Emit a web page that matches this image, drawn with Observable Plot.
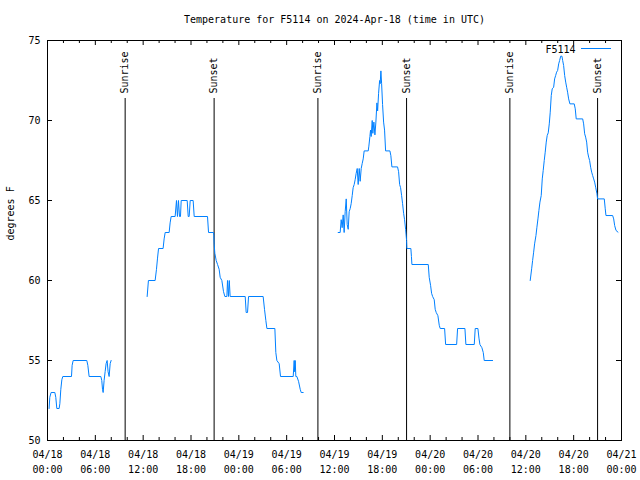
<!DOCTYPE html>
<html>
<head>
<meta charset="utf-8">
<script src="https://cdn.jsdelivr.net/npm/d3@7"></script>
<script src="https://cdn.jsdelivr.net/npm/@observablehq/plot@0.6"></script>
<style>
  html, body { margin: 0; padding: 0; background: #ffffff; }
</style>
</head>
<body>
<div id="chart"></div>
<script>
// ---------- text ----------
const title = "Temperature for F5114 on 2024-Apr-18 (time in UTC)";
const yLabel = "degrees F";
const seriesName = "F5114";

// ---------- axes ----------
const startUTC = Date.UTC(2024, 3, 18, 0, 0);        // 04/18 00:00 UTC
const endHour = 72;                                  // 04/21 00:00 UTC
const yTicks = [50, 55, 60, 65, 70, 75];
const xMajorHours = [0, 6, 12, 18, 24, 30, 36, 42, 48, 54, 60, 66, 72];
const xMinorHours = [2, 4, 8, 10, 14, 16, 20, 22, 26, 28, 32, 34, 38, 40, 44, 46, 50, 52, 56, 58, 62, 64, 68, 70];

// ---------- sunrise / sunset (hours after 04/18 00:00 UTC) ----------
const sunLabels = ["Sunrise", "Sunset", "Sunrise", "Sunset", "Sunrise", "Sunset"];
const sunHours  = [9.74, 20.90, 33.92, 45.04, 58.00, 69.00];

// ---------- temperature series: [hours after 04/18 00:00 UTC, degrees F] ----------
const segment1 = [
  [0.2,52],[0.29,52.7],[0.45,53],[0.92,53],[1.04,52.7],[1.17,52],[1.46,52],[1.55,52.3],[1.67,53.2],
  [1.8,53.8],[1.92,54],[3.01,54],[3.09,54.7],[3.22,55],[4.93,55],[5.06,54.7],[5.22,54],[6.69,54],
  [6.81,53.75],[6.9,53.2],[6.98,53],[7.1,53.75],[7.23,54.3],[7.35,54.8],[7.48,55],[7.6,54.3],
  [7.73,54],[7.86,54.8],[7.98,55]
];
const segment2 = [
  [12.5,59],[12.66,60],[13.5,60],[13.67,60.7],[13.8,61.4],[13.93,62],[14.5,62],[14.63,62.6],[14.76,63],
  [15.26,63],[15.38,63.6],[15.51,64],[16.01,64],[16.18,65],[16.3,64],[16.43,65],[16.56,64],[16.68,64],
  [16.77,65],[17.52,65],[17.65,64],[17.77,64],[17.9,65],[18.27,65],[18.4,64],[20.07,64],[20.2,63],
  [20.83,63],[20.86,62.8],[20.9,62.3],[20.99,61.7],[21.16,61.25],[21.33,61],[21.53,60.7],[21.66,60.2],
  [21.87,60],[22.08,59.3],[22.25,59],[22.5,59],[22.58,60],[22.7,59],[22.8,60],[22.91,59],[24.8,59],
  [24.92,58],[25.09,58],[25.22,59],[27.05,59],[27.22,58.2],[27.39,57.5],[27.52,57],[28.52,57],
  [28.64,55.5],[28.77,55],[29.06,54.8],[29.23,54],[30.82,54],[30.94,55],[31.0,54.3],[31.07,55],
  [31.15,54],[31.28,54],[31.49,53.7],[31.7,53.2],[31.82,53],[32.07,53]
];
const segment3 = [
  [36.46,63],[36.71,63],[36.84,63.8],[36.96,63.3],[37.09,64.1],[37.21,63],[37.34,64.3],[37.47,65.1],
  [37.59,63.5],[37.72,63.2],[37.84,64.3],[37.97,64.5],[38.09,64.8],[38.22,65.3],[38.34,65.8],[38.47,66],
  [38.59,66.3],[38.72,66.7],[38.85,67],[38.97,66],[39.1,67],[39.22,66.2],[39.35,67],[39.47,67.3],
  [39.6,67.6],[39.72,68.1],[40.23,68.1],[40.31,68.4],[40.44,69],[40.52,69.4],[40.6,69],[40.73,70],
  [40.81,69.2],[40.94,69.9],[41.07,69.1],[41.19,69.9],[41.32,71.1],[41.41,70.6],[41.53,71.7],
  [41.66,72.5],[41.73,72.3],[41.82,73.1],[41.91,72.3],[42.03,71],[42.16,69.9],[42.28,69.4],[42.41,68.1],
  [42.95,68.1],[43.07,67.8],[43.2,67.1],[43.91,67.1],[44.04,66.8],[44.17,66],[44.29,65.8],[44.42,65.3],
  [44.54,64.8],[44.67,64.2],[44.79,63.8],[44.92,63.2],[45.04,62.5],[45.08,62],[45.58,62],[45.65,61.5],
  [45.71,61],[47.76,61],[47.88,60.2],[48.05,59.7],[48.18,59.2],[48.31,59],[48.51,58.8],[48.63,58.2],
  [48.76,58],[48.97,57.8],[49.14,57.2],[49.26,57],[49.81,57],[49.94,56],[51.32,56],[51.44,57],[52.36,57],
  [52.48,56],[53.53,56],[53.65,57],[53.99,57],[54.12,56.4],[54.24,56],[54.49,55.8],[54.66,55.5],
  [54.78,55],[55.83,55]
];
const segment4 = [
  [60.55,60],[60.73,60.73],[60.85,61.25],[60.98,61.77],[61.1,62.29],[61.27,62.81],[61.39,63.33],
  [61.52,63.85],[61.64,64.38],[61.77,64.9],[61.93,65.31],[62.06,66.35],[62.18,66.88],[62.31,67.5],
  [62.43,68.02],[62.56,68.65],[62.68,69.06],[62.81,69.23],[62.94,69.79],[63.06,70.52],[63.19,71.56],
  [63.31,71.98],[63.49,72.08],[63.61,72.6],[63.74,72.81],[63.86,73.02],[63.99,73.13],[64.12,73.54],
  [64.24,73.75],[64.37,74.02],[64.53,74.02],[64.62,73.75],[64.74,73.44],[64.87,72.81],[65.0,72.4],
  [65.12,72.08],[65.24,71.77],[65.37,71.35],[65.53,71.04],[66.07,71.04],[66.2,70.73],[66.32,70.1],
  [67.13,70.1],[67.25,69.79],[67.38,69.17],[67.5,68.96],[67.63,68.65],[67.75,68.02],[67.88,67.71],
  [68.0,67.5],[68.13,67.08],[68.26,66.77],[68.38,66.56],[68.51,66.35],[68.63,66.15],[68.76,65.83],
  [68.92,65.42],[69.0,65.1],[69.84,65.1],[69.96,64.48],[70.05,64.06],[70.89,64.06],[71.02,63.85],
  [71.14,63.44],[71.31,63.13],[71.56,63.02]
];

// ---------- build ----------
const toDate = h => new Date(startUTC + h * 3600e3);
const segments = [segment1, segment2, segment3, segment4];
const data = segments.flatMap((seg, i) => seg.map(([h, t]) => ({time: toDate(h), temp: t, seg: i})));
const sunEvents = sunHours.map((h, i) => ({time: toDate(h), label: sunLabels[i]}));
const fmtDay = d3.utcFormat("%m/%d"), fmtTime = d3.utcFormat("%H:%M");

const W = 640, H = 480, mL = 47, mR = 19, mT = 40, mB = 40;
const frameW = W - mL - mR, frameH = H - mT - mB;
const lineColor = "#0080ff";
const font = "'DejaVu Sans Mono', 'Liberation Mono', monospace";

const legendLine = (index, scales, values, dims) => {
  const right = dims.width - dims.marginRight;
  return d3.create("svg:line")
    .attr("x1", right - 40).attr("x2", right - 10)
    .attr("y1", dims.marginTop + 8.5).attr("y2", dims.marginTop + 8.5)
    .attr("stroke", lineColor).attr("stroke-width", 1)
    .node();
};

const chart = Plot.plot({
  width: W, height: H,
  marginLeft: mL, marginRight: mR, marginTop: mT, marginBottom: mB,
  style: {fontFamily: font, fontSize: "10px", background: "#ffffff", color: "#000000", overflow: "visible"},
  x: {type: "utc", domain: [toDate(0), toDate(endHour)], axis: null},
  y: {domain: [50, 75], axis: null},
  marks: [
    // sunrise / sunset markers
    Plot.ruleX(sunEvents, {x: "time", insetTop: 58, stroke: "#000000", strokeWidth: 1}),
    Plot.text(sunEvents, {x: "time", text: "label", frameAnchor: "top", dy: 53, rotate: -90,
      textAnchor: "start", lineAnchor: "middle", fill: "#000000"}),
    // temperature
    Plot.line(data, {x: "time", y: "temp", z: "seg", stroke: lineColor, strokeWidth: 1,
      strokeLinejoin: "miter", curve: "linear"}),
    // ticks (inward, mirrored)
    Plot.tickY(yTicks, {y: d => d, insetRight: frameW - 5, stroke: "#000000"}),
    Plot.tickY(yTicks, {y: d => d, insetLeft: frameW - 5, stroke: "#000000"}),
    Plot.tickX(xMajorHours, {x: d => toDate(d), insetTop: frameH - 5, stroke: "#000000"}),
    Plot.tickX(xMajorHours, {x: d => toDate(d), insetBottom: frameH - 5, stroke: "#000000"}),
    Plot.tickX(xMinorHours, {x: d => toDate(d), insetTop: frameH - 3, stroke: "#000000"}),
    Plot.tickX(xMinorHours, {x: d => toDate(d), insetBottom: frameH - 3, stroke: "#000000"}),
    Plot.frame({stroke: "#000000", strokeWidth: 1}),
    // tick labels
    Plot.text(yTicks, {y: d => d, text: d => String(d), frameAnchor: "left", dx: -7, textAnchor: "end",
      fill: "#000000"}),
    Plot.text(xMajorHours, {x: d => toDate(d), text: d => fmtDay(toDate(d)) + "\n" + fmtTime(toDate(d)),
      frameAnchor: "bottom", dy: 7, lineAnchor: "top", lineHeight: 1.5, fill: "#000000"}),
    // titles
    Plot.text([title], {text: d => d, frameAnchor: "top", dy: -21, lineAnchor: "middle", fill: "#000000"}),
    Plot.text([yLabel], {text: d => d, frameAnchor: "left", dx: -37, rotate: -90, lineAnchor: "middle",
      fill: "#000000"}),
    // legend
    Plot.text([seriesName], {text: d => d, frameAnchor: "top-right", dx: -46, dy: 9, textAnchor: "end",
      lineAnchor: "middle", fill: "#000000"}),
    legendLine
  ]
});
document.getElementById("chart").appendChild(chart);
</script>
</body>
</html>
